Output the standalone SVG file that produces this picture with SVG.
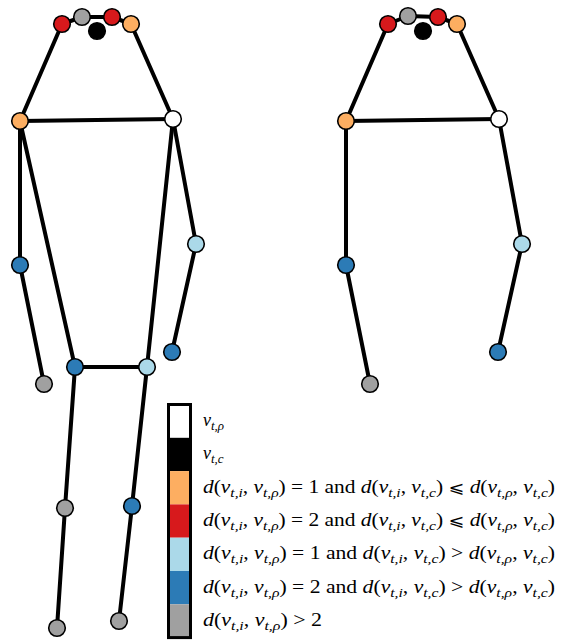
<svg xmlns="http://www.w3.org/2000/svg" width="566" height="640" viewBox="0 0 566 640">
<style>
.e{stroke:#000;stroke-width:4;stroke-linecap:round;fill:none}
.n{stroke:#000;stroke-width:1.6}
.w{fill:#ffffff}.k{fill:#000000}.o{fill:#fdae61}.r{fill:#d7191c}.lb{fill:#abd9e9}.b{fill:#2c7bb6}.g{fill:#a0a0a0}
.t{font-family:"Liberation Serif","DejaVu Serif",serif;font-size:18px;fill:#000}
.i{font-style:italic}
.s{font-size:13px;font-style:italic}
.sym{font-family:"DejaVu Serif","DejaVu Sans",serif;font-size:16px}
</style>
<rect width="566" height="640" fill="#fff"/>
<g id="connectors">
<line class="e" x1="62" y1="24" x2="82" y2="17"/>
<line class="e" x1="82" y1="17" x2="112" y2="17"/>
<line class="e" x1="112" y1="17" x2="131" y2="24"/>
<line class="e" x1="62" y1="24" x2="20" y2="121"/>
<line class="e" x1="131" y1="24" x2="173" y2="119"/>
<line class="e" x1="20" y1="121" x2="173" y2="119"/>
<line class="e" x1="20" y1="121" x2="20" y2="265"/>
<line class="e" x1="20" y1="265" x2="44" y2="384"/>
<line class="e" x1="20" y1="121" x2="75" y2="367"/>
<line class="e" x1="173" y1="119" x2="147" y2="367"/>
<line class="e" x1="173" y1="119" x2="196" y2="244"/>
<line class="e" x1="196" y1="244" x2="172" y2="352"/>
<line class="e" x1="75" y1="367" x2="147" y2="367"/>
<line class="e" x1="75" y1="367" x2="65" y2="508"/>
<line class="e" x1="65" y1="508" x2="57" y2="628"/>
<line class="e" x1="147" y1="367" x2="132" y2="506"/>
<line class="e" x1="132" y1="506" x2="119" y2="621"/>
<line class="e" x1="388" y1="24" x2="408" y2="16"/>
<line class="e" x1="408" y1="16" x2="438" y2="17"/>
<line class="e" x1="438" y1="17" x2="457" y2="24"/>
<line class="e" x1="388" y1="24" x2="346" y2="121"/>
<line class="e" x1="457" y1="24" x2="499" y2="119"/>
<line class="e" x1="346" y1="121" x2="499" y2="119"/>
<line class="e" x1="346" y1="121" x2="346" y2="265"/>
<line class="e" x1="346" y1="265" x2="370" y2="384"/>
<line class="e" x1="499" y1="119" x2="522" y2="244"/>
<line class="e" x1="522" y1="244" x2="498" y2="352"/>
</g>
<g id="L-earL"><circle class="n r" cx="62" cy="24" r="8.3"/></g>
<g id="L-nose"><circle class="n g" cx="82" cy="17" r="8.3"/></g>
<g id="L-eyeR"><circle class="n r" cx="112" cy="17" r="8.3"/></g>
<g id="L-earR"><circle class="n o" cx="131" cy="24" r="8.3"/></g>
<g id="L-center"><circle class="n k" cx="97" cy="31" r="8.3"/></g>
<g id="L-shoulderL"><circle class="n o" cx="20" cy="121" r="8.3"/></g>
<g id="L-shoulderR"><circle class="n w" cx="173" cy="119" r="8.3"/></g>
<g id="L-elbowL"><circle class="n b" cx="20" cy="265" r="8.3"/></g>
<g id="L-wristL"><circle class="n g" cx="44" cy="384" r="8.3"/></g>
<g id="L-elbowR"><circle class="n lb" cx="196" cy="244" r="8.3"/></g>
<g id="L-wristR"><circle class="n b" cx="172" cy="352" r="8.3"/></g>
<g id="L-hipL"><circle class="n b" cx="75" cy="367" r="8.3"/></g>
<g id="L-hipR"><circle class="n lb" cx="147" cy="367" r="8.3"/></g>
<g id="L-kneeL"><circle class="n g" cx="65" cy="508" r="8.3"/></g>
<g id="L-ankleL"><circle class="n g" cx="57" cy="628" r="8.3"/></g>
<g id="L-kneeR"><circle class="n b" cx="132" cy="506" r="8.3"/></g>
<g id="L-ankleR"><circle class="n g" cx="119" cy="621" r="8.3"/></g>
<g id="R-earL"><circle class="n r" cx="388" cy="24" r="8.3"/></g>
<g id="R-nose"><circle class="n g" cx="408" cy="16" r="8.3"/></g>
<g id="R-eyeR"><circle class="n r" cx="438" cy="17" r="8.3"/></g>
<g id="R-earR"><circle class="n o" cx="457" cy="24" r="8.3"/></g>
<g id="R-center"><circle class="n k" cx="423" cy="31" r="8.3"/></g>
<g id="R-shoulderL"><circle class="n o" cx="346" cy="121" r="8.3"/></g>
<g id="R-shoulderR"><circle class="n w" cx="499" cy="119" r="8.3"/></g>
<g id="R-elbowL"><circle class="n b" cx="346" cy="265" r="8.3"/></g>
<g id="R-wristL"><circle class="n g" cx="370" cy="384" r="8.3"/></g>
<g id="R-elbowR"><circle class="n lb" cx="522" cy="244" r="8.3"/></g>
<g id="R-wristR"><circle class="n b" cx="498" cy="352" r="8.3"/></g>
<g id="legend">
<rect x="168.5" y="404.5" width="22" height="33.3" fill="#fff"/>
<rect x="168.5" y="437.8" width="22" height="33.3" fill="#000"/>
<rect x="168.5" y="471.1" width="22" height="33.3" fill="#fdae61"/>
<rect x="168.5" y="504.4" width="22" height="33.3" fill="#d7191c"/>
<rect x="168.5" y="537.7" width="22" height="33.3" fill="#abd9e9"/>
<rect x="168.5" y="571" width="22" height="33.3" fill="#2c7bb6"/>
<rect x="168.5" y="604.3" width="22" height="33.3" fill="#a0a0a0"/>
<rect x="168.5" y="404.5" width="22" height="233.1" fill="none" stroke="#000" stroke-width="3"/>
<text class="t" x="203" y="426"><tspan class="i">v</tspan><tspan class="s" dy="4">t,ρ</tspan></text>
<text class="t" x="203" y="459.3"><tspan class="i">v</tspan><tspan class="s" dy="4">t,c</tspan></text>
<text class="t" x="203" y="492.6" textLength="352" lengthAdjust="spacingAndGlyphs"><tspan class="i">d</tspan>(<tspan class="i">v</tspan><tspan class="s" dy="4">t,i</tspan><tspan dy="-4">, </tspan><tspan class="i">v</tspan><tspan class="s" dy="4">t,ρ</tspan><tspan dy="-4">) = 1 and </tspan><tspan class="i">d</tspan>(<tspan class="i">v</tspan><tspan class="s" dy="4">t,i</tspan><tspan dy="-4">, </tspan><tspan class="i">v</tspan><tspan class="s" dy="4">t,c</tspan><tspan dy="-4">) </tspan><tspan class="sym">⩽</tspan> <tspan class="i">d</tspan>(<tspan class="i">v</tspan><tspan class="s" dy="4">t,ρ</tspan><tspan dy="-4">, </tspan><tspan class="i">v</tspan><tspan class="s" dy="4">t,c</tspan><tspan dy="-4">)</tspan></text>
<text class="t" x="203" y="525.9" textLength="352" lengthAdjust="spacingAndGlyphs"><tspan class="i">d</tspan>(<tspan class="i">v</tspan><tspan class="s" dy="4">t,i</tspan><tspan dy="-4">, </tspan><tspan class="i">v</tspan><tspan class="s" dy="4">t,ρ</tspan><tspan dy="-4">) = 2 and </tspan><tspan class="i">d</tspan>(<tspan class="i">v</tspan><tspan class="s" dy="4">t,i</tspan><tspan dy="-4">, </tspan><tspan class="i">v</tspan><tspan class="s" dy="4">t,c</tspan><tspan dy="-4">) </tspan><tspan class="sym">⩽</tspan> <tspan class="i">d</tspan>(<tspan class="i">v</tspan><tspan class="s" dy="4">t,ρ</tspan><tspan dy="-4">, </tspan><tspan class="i">v</tspan><tspan class="s" dy="4">t,c</tspan><tspan dy="-4">)</tspan></text>
<text class="t" x="203" y="559.2" textLength="352" lengthAdjust="spacingAndGlyphs"><tspan class="i">d</tspan>(<tspan class="i">v</tspan><tspan class="s" dy="4">t,i</tspan><tspan dy="-4">, </tspan><tspan class="i">v</tspan><tspan class="s" dy="4">t,ρ</tspan><tspan dy="-4">) = 1 and </tspan><tspan class="i">d</tspan>(<tspan class="i">v</tspan><tspan class="s" dy="4">t,i</tspan><tspan dy="-4">, </tspan><tspan class="i">v</tspan><tspan class="s" dy="4">t,c</tspan><tspan dy="-4">) &gt; </tspan><tspan class="i">d</tspan>(<tspan class="i">v</tspan><tspan class="s" dy="4">t,ρ</tspan><tspan dy="-4">, </tspan><tspan class="i">v</tspan><tspan class="s" dy="4">t,c</tspan><tspan dy="-4">)</tspan></text>
<text class="t" x="203" y="592.5" textLength="352" lengthAdjust="spacingAndGlyphs"><tspan class="i">d</tspan>(<tspan class="i">v</tspan><tspan class="s" dy="4">t,i</tspan><tspan dy="-4">, </tspan><tspan class="i">v</tspan><tspan class="s" dy="4">t,ρ</tspan><tspan dy="-4">) = 2 and </tspan><tspan class="i">d</tspan>(<tspan class="i">v</tspan><tspan class="s" dy="4">t,i</tspan><tspan dy="-4">, </tspan><tspan class="i">v</tspan><tspan class="s" dy="4">t,c</tspan><tspan dy="-4">) &gt; </tspan><tspan class="i">d</tspan>(<tspan class="i">v</tspan><tspan class="s" dy="4">t,ρ</tspan><tspan dy="-4">, </tspan><tspan class="i">v</tspan><tspan class="s" dy="4">t,c</tspan><tspan dy="-4">)</tspan></text>
<text class="t" x="203" y="625.8" textLength="119" lengthAdjust="spacingAndGlyphs"><tspan class="i">d</tspan>(<tspan class="i">v</tspan><tspan class="s" dy="4">t,i</tspan><tspan dy="-4">, </tspan><tspan class="i">v</tspan><tspan class="s" dy="4">t,ρ</tspan><tspan dy="-4">) &gt; 2</tspan></text>
</g>
</svg>
